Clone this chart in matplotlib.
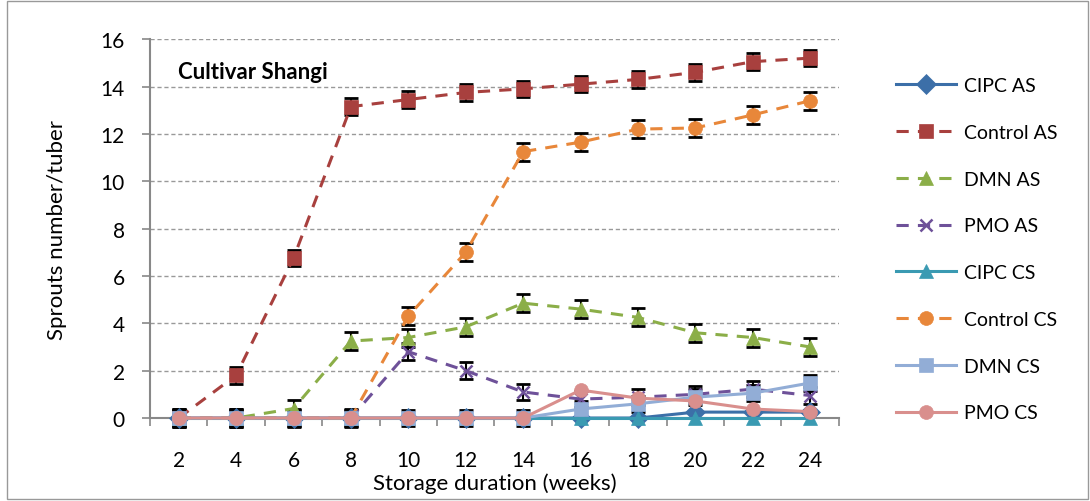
import numpy as np
import matplotlib.pyplot as plt
from matplotlib.ticker import MultipleLocator, FixedLocator

weeks = [2, 4, 6, 8, 10, 12, 14, 16, 18, 20, 22, 24]

cipc_as = [0, 0, 0, 0, 0, 0, 0, 0, 0, 0.25, 0.25, 0.25]
control_as = [0, 1.8, 6.75, 13.15, 13.45, 13.75, 13.9, 14.1, 14.3, 14.6, 15.05, 15.2]
dmn_as = [0, 0, 0.4, 3.25, 3.4, 3.85, 4.85, 4.6, 4.25, 3.6, 3.4, 3.0]
pmo_as = [0, 0, 0, 0, 2.8, 2.0, 1.1, 0.8, 0.88, 1.0, 1.22, 0.95]
cipc_cs = [0, 0, 0, 0, 0, 0, 0, 0, 0, 0, 0, 0]
control_cs = [0, 0, 0, 0, 4.3, 7.0, 11.25, 11.65, 12.2, 12.25, 12.8, 13.4]
dmn_cs = [0, 0, 0, 0, 0, 0, 0, 0.38, 0.6, 0.88, 1.05, 1.48]
pmo_cs = [0, 0, 0, 0, 0, 0, 0, 1.18, 0.84, 0.72, 0.38, 0.27]

err_control_as = 0.35
err_dmn_as = 0.38
err_pmo_as = 0.35
err_control_cs = 0.38
err_dmn_cs = 0.35

plt.rcParams['font.family'] = ['Lato', 'DejaVu Sans']

fig = plt.figure(figsize=(10.9, 5.02), dpi=100)
ax = fig.add_axes([0.1376, 0.1653, 0.632, 0.7547])

x = np.arange(len(weeks))

series = [
    ('CIPC AS', cipc_as, '#3C6FA8', 'D', '-', None),
    ('Control AS', control_as, '#A8403E', 's', (0, (4, 3)), err_control_as),
    ('DMN AS', dmn_as, '#8BAE48', '^', (0, (4, 3)), err_dmn_as),
    ('PMO AS', pmo_as, '#6E5199', 'x', (0, (4, 3)), err_pmo_as),
    ('CIPC CS', cipc_cs, '#3A9AB2', '^', '-', None),
    ('Control CS', control_cs, '#E8873A', 'o', (0, (4, 3)), err_control_cs),
    ('DMN CS', dmn_cs, '#92ADD6', 's', '-', err_dmn_cs),
    ('PMO CS', pmo_cs, '#D98F8D', 'o', '-', None),
]

handles = []
for name, vals, col, mk, ls, err in series:
    if err is not None:
        ax.errorbar(x, vals, yerr=err, fmt='none', ecolor='black',
                    elinewidth=1.5, capsize=5, capthick=2, zorder=4, clip_on=False)
    ms = 10 if mk != 'x' else 9
    h, = ax.plot(x, vals, color=col, linestyle=ls, linewidth=2.2, marker=mk,
                 markersize=ms, markeredgewidth=1.8 if mk == 'x' else 0.5,
                 markeredgecolor=col, zorder=5, clip_on=False, label=name)
    handles.append(h)

ax.set_xlim(-0.5, len(weeks) - 0.5)
ax.set_ylim(0, 16)
ax.yaxis.set_major_locator(MultipleLocator(2))
ax.set_xticks(x)
ax.set_xticklabels([str(w) for w in weeks])
ax.xaxis.set_minor_locator(FixedLocator(np.arange(-0.5, len(weeks), 1)))
ax.tick_params(axis='x', which='major', length=0, labelsize=15, pad=23)
ax.tick_params(axis='x', which='minor', length=6, color='#888888', width=1.2)
ax.tick_params(axis='y', length=6, color='#888888', labelsize=15, width=1.2, pad=12)

ax.grid(axis='y', linestyle=(0, (3, 2)), color='#999999', linewidth=1)
ax.set_axisbelow(True)
for s in ['top', 'right']:
    ax.spines[s].set_visible(False)
for s in ['left', 'bottom']:
    ax.spines[s].set_color('#888888')
    ax.spines[s].set_linewidth(1.5)

ax.set_xlabel('Storage duration (weeks)', fontsize=16, labelpad=2)
ax.set_ylabel('Sprouts number/tuber', fontsize=16, labelpad=24)
ax.text(0.04, 0.915, 'Cultivar Shangi', transform=ax.transAxes, fontsize=16,
        fontweight='bold', va='center')

fig.legend(handles=handles, loc='upper left', bbox_to_anchor=(0.806, 0.879),
           frameon=False, fontsize=14, labelspacing=1.53, handlelength=3.1,
           handletextpad=0.4)

border = plt.Rectangle((0.006, 0.003), 0.992, 0.994, transform=fig.transFigure,
                       fill=False, edgecolor='#999999', linewidth=1)
fig.patches.append(border)

fig.savefig('out.png', dpi=100)
